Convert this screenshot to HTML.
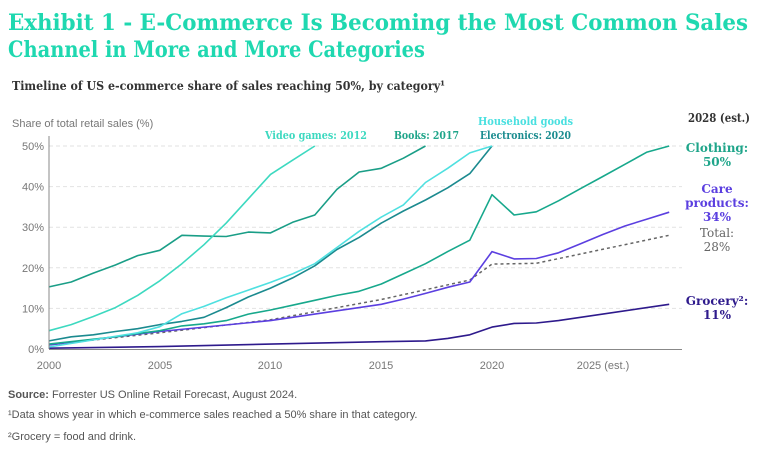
<!DOCTYPE html>
<html><head><meta charset="utf-8"><style>
html,body{margin:0;padding:0;background:#fff;width:768px;height:451px;overflow:hidden}
svg{display:block}
.t{font-family:"DejaVu Serif","Liberation Serif",serif;font-weight:bold}
.s{font-family:"Liberation Sans",sans-serif}
</style></head><body>
<svg id="c" width="768" height="451" viewBox="0 0 768 451" xmlns="http://www.w3.org/2000/svg">
<text class="t" x="8" y="30" font-size="22" fill="#1FD8B0" textLength="740" lengthAdjust="spacingAndGlyphs">Exhibit 1 - E-Commerce Is Becoming the Most Common Sales</text>
<text class="t" x="8" y="57" font-size="22" fill="#1FD8B0" textLength="417" lengthAdjust="spacingAndGlyphs">Channel in More and More Categories</text>
<text class="t" x="12" y="90" font-size="12.5" fill="#333" textLength="433" lengthAdjust="spacingAndGlyphs">Timeline of US e-commerce share of sales reaching 50%, by category¹</text>
<text class="s" x="12" y="127" font-size="11" fill="#777">Share of total retail sales (%)</text>
<g id="grid"></g>
<g id="lines"></g>
<line x1="49" y1="136" x2="49" y2="349" stroke="#888" stroke-width="1"/>
<line x1="49" y1="349.5" x2="682" y2="349.5" stroke="#888" stroke-width="1"/>
<g class="s" font-size="11" fill="#777" text-anchor="middle">
<text x="49" y="369">2000</text><text x="160" y="369">2005</text><text x="270" y="369">2010</text>
<text x="381" y="369">2015</text><text x="492" y="369">2020</text><text x="603" y="369">2025 (est.)</text>
</g>
<g class="t" font-size="11.5">
<text x="265" y="139" fill="#3DD9C0" textLength="102" lengthAdjust="spacingAndGlyphs">Video games: 2012</text>
<text x="394" y="139" fill="#1FA58A" textLength="65" lengthAdjust="spacingAndGlyphs">Books: 2017</text>
<text x="478" y="125" fill="#4AE0E0" textLength="95" lengthAdjust="spacingAndGlyphs">Household goods</text>
<text x="480" y="139" fill="#1B8C8F" textLength="91" lengthAdjust="spacingAndGlyphs">Electronics: 2020</text>
</g>
<text class="t" x="688" y="122" font-size="12.5" fill="#333" font-weight="normal" textLength="62" lengthAdjust="spacingAndGlyphs">2028 (est.)</text>
<g class="t" font-size="12" text-anchor="middle">
<text x="717" y="152" fill="#1FA58A">Clothing:</text><text x="717" y="166" fill="#1FA58A">50%</text>
<text x="717" y="193" fill="#5B3FE0">Care</text><text x="717" y="207" fill="#5B3FE0">products:</text><text x="717" y="221" fill="#5B3FE0">34%</text>
<text x="717" y="237" fill="#666" font-weight="normal">Total:</text><text x="717" y="251" fill="#666" font-weight="normal">28%</text>
<text x="717" y="305" fill="#2E1A8C">Grocery²:</text><text x="717" y="319" fill="#2E1A8C">11%</text>
</g>
<g class="s" font-size="11" fill="#555">
<text x="8" y="398"><tspan font-weight="bold">Source:</tspan> Forrester US Online Retail Forecast, August 2024.</text>
<text x="8" y="418">¹Data shows year in which e-commerce sales reached a 50% share in that category.</text>
<text x="8" y="440">²Grocery = food and drink.</text>
</g>
</svg>
<script>
var X=function(y){return 49+(y-2000)*22.15},Y=function(v){return 349-v*4.06};
var ns="http://www.w3.org/2000/svg",g=document.getElementById('grid'),L=document.getElementById('lines');
[0,10,20,30,40,50].forEach(function(v){
 var t=document.createElementNS(ns,'text');t.setAttribute('x',44);t.setAttribute('y',Y(v)+4);t.setAttribute('text-anchor','end');
 t.setAttribute('font-size','11');t.setAttribute('fill','#777');t.setAttribute('font-family','Liberation Sans,sans-serif');t.textContent=v+'%';g.appendChild(t);
 if(v>0){var l=document.createElementNS(ns,'line');l.setAttribute('x1',49);l.setAttribute('x2',682);l.setAttribute('y1',Y(v));l.setAttribute('y2',Y(v));
 l.setAttribute('stroke','#e2e2e2');l.setAttribute('stroke-dasharray','4,3');g.appendChild(l);}
});
function S(c,pts,dash,w){var p=[];for(var i=0;i<pts.length;i+=2)p.push(X(pts[i]).toFixed(1)+','+Y(pts[i+1]).toFixed(1));
 var e=document.createElementNS(ns,'polyline');e.setAttribute('points',p.join(' '));e.setAttribute('fill','none');e.setAttribute('stroke',c);
 e.setAttribute('stroke-width',w||1.6);e.setAttribute('stroke-linejoin','round');if(dash)e.setAttribute('stroke-dasharray',dash);L.appendChild(e);}
S('#2E1A8C',[2000,0.2,2005,0.6,2010,1.2,2015,1.8,2017,2,2018,2.6,2019,3.5,2020,5.4,2021,6.3,2022,6.4,2023,7,2028,11]);
S('#666',[2000,1,2005,4,2010,7.2,2015,12.2,2019,17,2020,20.9,2021,21,2022,21.1,2028,28],'3,3',1.5);
S('#5B3FE0',[2000,1,2005,4.3,2010,7,2015,11,2016,12.3,2017,13.7,2018,15.2,2019,16.5,2020,24,2021,22.2,2022,22.3,2023,23.7,2024,25.9,2025,28.2,2026,30.3,2027,32,2028,33.7]);
S('#17A88C',[2000,1.2,2003,3,2004,3.8,2005,4.5,2006,5.7,2007,6.2,2008,7,2009,8.6,2010,9.6,2011,10.8,2012,12,2013,13.2,2014,14.2,2015,16,2016,18.5,2017,21,2018,24,2019,26.8,2020,38,2021,33,2022,33.8,2023,36.5,2024,39.5,2025,42.5,2026,45.5,2027,48.5,2028,50]);
S('#1B8A8F',[2000,2,2001,3,2002,3.5,2003,4.3,2004,5,2005,6,2006,6.8,2007,7.8,2008,10.2,2009,12.8,2010,15,2011,17.5,2012,20.5,2013,24.5,2014,27.5,2015,31,2016,34,2017,36.7,2018,39.7,2019,43.2,2020,50]);
S('#4FE0E0',[2000,0.5,2004,4,2005,5.5,2006,8.7,2007,10.5,2008,12.6,2009,14.5,2010,16.4,2011,18.5,2012,21,2013,25,2014,29,2015,32.5,2016,35.5,2017,41,2018,44.5,2019,48.3,2020,50]);
S('#1A9E87',[2000,15.3,2001,16.5,2002,18.7,2003,20.7,2004,23,2005,24.3,2006,28,2007,27.8,2008,27.7,2009,28.8,2010,28.6,2011,31.2,2012,33,2013,39.3,2014,43.6,2015,44.5,2016,47,2017,50]);
S('#3DD9C0',[2000,4.5,2001,6,2002,8,2003,10.2,2004,13.2,2005,16.8,2006,21,2007,25.7,2008,31,2009,37,2010,43,2011,46.5,2012,50]);
</script>
</body></html>
